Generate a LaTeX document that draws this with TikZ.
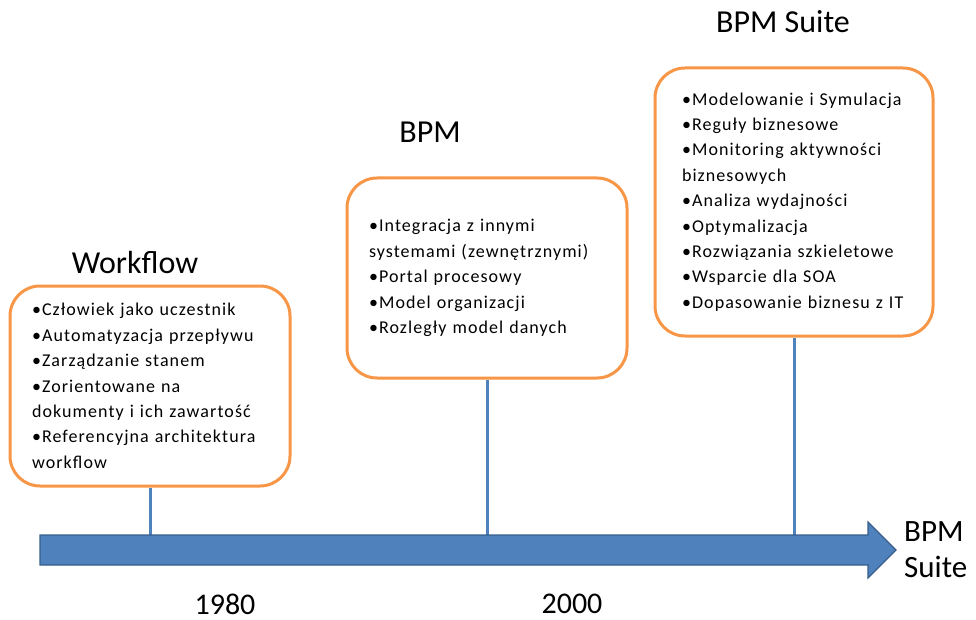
\documentclass[tikz,border=0pt]{standalone}
\usepackage{fontspec}
\setmainfont{Carlito}
\newfontfamily\listfont[LetterSpace=6]{Carlito}
\definecolor{boxorange}{HTML}{F79646}
\definecolor{axisblue}{HTML}{4F81BD}
\definecolor{axisedge}{HTML}{385D8A}
\begin{document}
\begin{tikzpicture}[x=1pt,y=-1pt,
  era/.style={draw=boxorange, line width=3pt, rounded corners=30pt, fill=white,
    minimum height=200pt, inner ysep=0pt, align=left,
    font=\listfont\fontsize{18}{25.4}\selectfont},
  title/.style={font=\fontsize{32}{36}\selectfont, inner sep=0pt},
  stem/.style={draw=axisblue, line width=3pt},
  year/.style={font=\fontsize{30}{36}\selectfont, inner sep=0pt}]
\useasboundingbox (0,0) rectangle (976,620);

% period boxes
\node[era, inner xsep=22pt, text width=236pt] (wf) at (150,386)
  {•Człowiek jako uczestnik\\•Automatyzacja przepływu\\•Zarządzanie stanem\\•Zorientowane na\\dokumenty i ich zawartość\\•Referencyjna architektura\\workflow};
\node[era, inner xsep=22pt, text width=236pt] (bpm) at (487,278)
  {•Integracja z innymi\\systemami (zewnętrznymi)\\•Portal procesowy\\•Model organizacji\\•Rozległy model danych};
\node[era, inner xsep=27pt, text width=224pt, minimum height=268pt] (suite) at (794,202)
  {•Modelowanie i Symulacja\\•Reguły biznesowe\\•Monitoring aktywności\\biznesowych\\•Analiza wydajności\\•Optymalizacja\\•Rozwiązania szkieletowe\\•Wsparcie dla SOA\\•Dopasowanie biznesu z IT};

% titles
\node[title] (twf) at (135,262) {Workflow};
\node[title] (tbpm) at (430,132) {BPM};
\node[title] (tsuite) at (783,22) {BPM Suite};

% stems down to the time axis
\coordinate (a1) at (150,540);
\coordinate (a2) at (487,540);
\coordinate (a3) at (794,540);
\draw[stem] (wf.south) -- (a1);
\draw[stem] (bpm.south) -- (a2);
\draw[stem] (suite.south) -- (a3);

% time axis arrow
\filldraw[fill=axisblue, draw=axisedge, line width=1.2pt, line join=miter]
  (40,535) -- (868,535) -- (868,522) -- (896,550) -- (868,578) -- (868,565) -- (40,565) -- cycle;

% axis labels
\node[year, align=left, anchor=west, font=\fontsize{31}{36}\selectfont] (end) at (904,550) {BPM\\Suite};
\node[year] (y1980) at (225,604) {1980};
\node[year] (y2000) at (572,604) {2000};
\end{tikzpicture}
\end{document}
